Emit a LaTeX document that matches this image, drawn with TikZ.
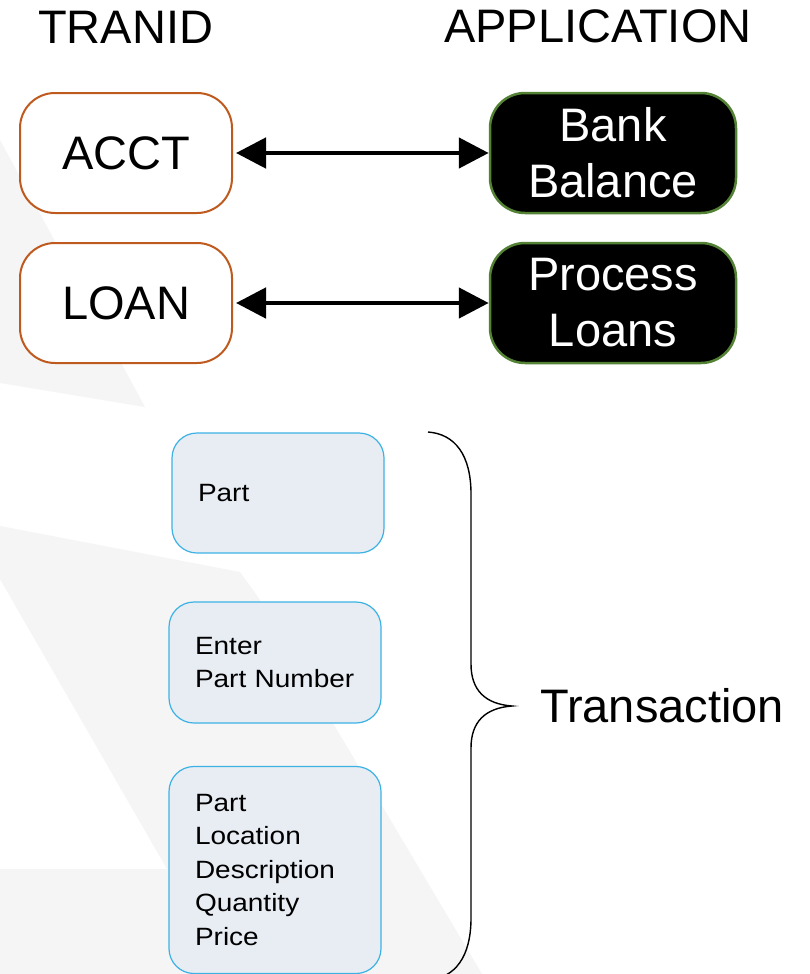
\documentclass[tikz,border=0pt]{standalone}
\usepackage{fontspec}
\setmainfont{Liberation Sans}
\newfontfamily\smallfont[FakeStretch=1.12]{Liberation Sans}
\usetikzlibrary{arrows.meta}
\definecolor{bggray}{RGB}{245,245,245}
\definecolor{tranborder}{RGB}{190,90,30}
\definecolor{appborder}{RGB}{84,130,53}
\definecolor{partfill}{RGB}{232,237,244}
\definecolor{partborder}{RGB}{60,178,228}
\begin{document}
\begin{tikzpicture}[x=1pt,y=-1pt,
  bigtext/.style={font=\fontsize{47}{56}\selectfont},
  tranbox/.style={draw=tranborder, line width=2pt, fill=white, rounded corners=35pt, minimum width=212pt, minimum height=120pt, inner sep=0pt, bigtext},
  appbox/.style={draw=appborder, line width=2.5pt, fill=black, text=white, rounded corners=35pt, minimum width=246pt, minimum height=120pt, inner sep=0pt, align=center, bigtext},
  partbox/.style={draw=partborder, line width=1.2pt, fill=partfill, rounded corners=25pt, inner xsep=26pt, inner ysep=0pt, text width=160pt, minimum height=#1, align=left, font=\smallfont\fontsize{25}{33.5}\selectfont},
  link/.style={{Triangle[length=30pt,width=30pt]}-{Triangle[length=30pt,width=30pt]}, line width=4.8pt, shorten <=3pt},
  bracepath/.style={line width=1.4pt, black}
]
\useasboundingbox (0,0) rectangle (810,974);
\fill[white] (0,0) rectangle (810,974);
% background shapes
\fill[bggray] (0,140) -- (145,407) -- (0,383) -- cycle;
\fill[bggray] (0,526) -- (240,572) -- (258,597) -- (482,974) -- (0,974) -- (0,869) -- (167,869) -- (0,579) -- cycle;

% titles
\node[bigtext, anchor=base west, inner sep=0pt] (tranid) at (38,44) {TRANID};
\node[bigtext, anchor=base west, inner sep=0pt] (application) at (444,43) {APPLICATION};

% top boxes
\node[tranbox] (acct) at (126,153) {ACCT};
\node[tranbox] (loan) at (126,303) {LOAN};
\node[appbox] (bank) at (613,153) {Bank\\Balance};
\node[appbox] (proc) at (613,303) {Process\\Loans};

\draw[link] (acct) -- (bank);
\draw[link] (loan) -- (proc);

% transaction boxes
\node[partbox=120pt] (part) at (278,493) {Part};
\node[partbox=121pt] (enter) at (275,662.5) {Enter\\Part Number};
\node[partbox=207pt] (details) at (275,870) {Part\\Location\\Description\\Quantity\\Price};

% brace
\draw[bracepath] (428,432) .. controls (455,434) and (471,455) .. (471,494)
  -- (471,664) .. controls (471,690) and (485,704) .. (512,706)
  .. controls (485,708) and (471,722) .. (471,748)
  -- (471,918) .. controls (471,957) and (455,978) .. (428,980);

\node[bigtext, anchor=base west, inner sep=0pt] (transaction) at (540,722) {Transaction};
\end{tikzpicture}
\end{document}
